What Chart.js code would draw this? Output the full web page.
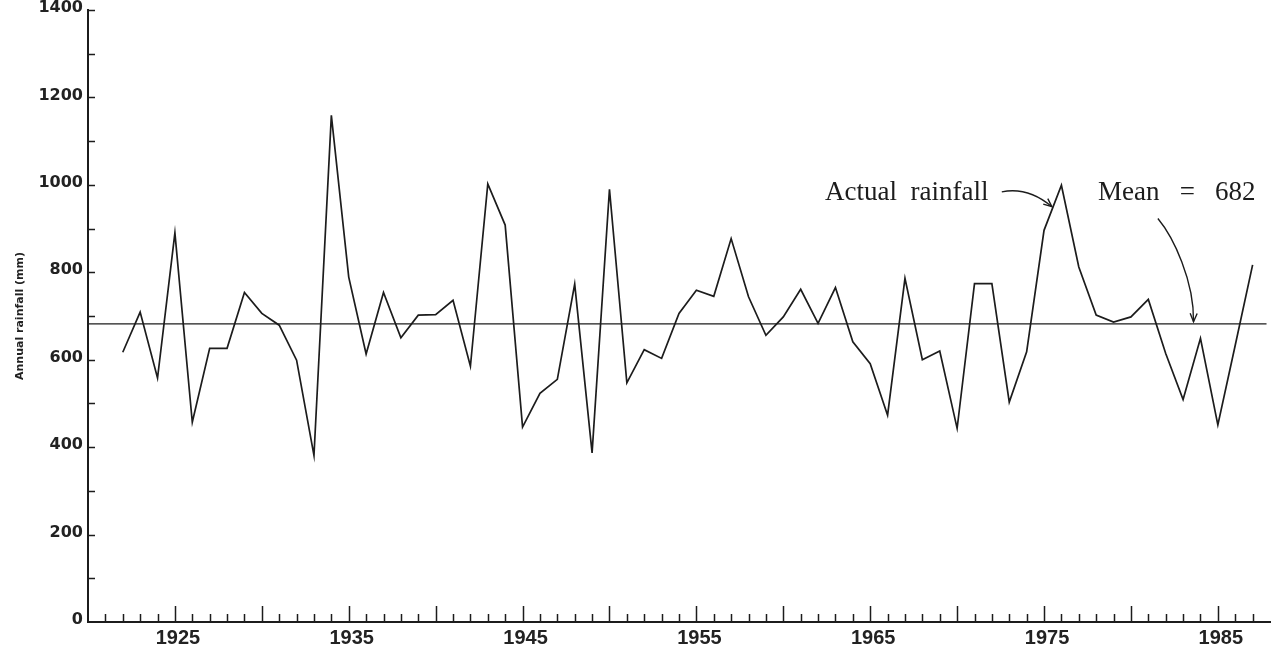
<!DOCTYPE html>
<html>
<head>
<meta charset="utf-8">
<script src="https://cdn.jsdelivr.net/npm/chart.js@4.4.1/dist/chart.umd.min.js"></script>
<style>
  html, body { margin: 0; padding: 0; background: #fff; }
  #rainfallChart { display: block; }
</style>
</head>
<body>
<canvas id="rainfallChart" width="1282" height="655"></canvas>
<script>
// annual rainfall (mm)
const years = [1922, 1923, 1924, 1925, 1926, 1927, 1928, 1929, 1930, 1931,
  1932, 1933, 1934, 1935, 1936, 1937, 1938, 1939, 1940, 1941,
  1942, 1943, 1944, 1945, 1946, 1947, 1948, 1949, 1950, 1951,
  1952, 1953, 1954, 1955, 1956, 1957, 1958, 1959, 1960, 1961,
  1962, 1963, 1964, 1965, 1966, 1967, 1968, 1969, 1970, 1971,
  1972, 1973, 1974, 1975, 1976, 1977, 1978, 1979, 1980, 1981,
  1982, 1983, 1984, 1985, 1986, 1987];
const rainfall = [617, 709, 558, 890, 457, 626, 626, 754, 706, 679,
  599, 381, 1159, 789, 613, 754, 650, 702, 703, 736,
  585, 1002, 908, 446, 523, 555, 773, 387, 990, 547,
  623, 603, 706, 759, 745, 877, 744, 656, 698, 761,
  683, 765, 641, 591, 473, 786, 600, 620, 443, 774,
  774, 503, 618, 896, 999, 812, 702, 686, 698, 738,
  614, 509, 649, 451, 633, 817];
const meanRainfall = 682;
const xLabelYears = [1925, 1935, 1945, 1955, 1965, 1975, 1985];
const yLabelValues = [0, 200, 400, 600, 800, 1000, 1200, 1400];

const ink = '#1c1c1c';

// text notes and arrows, placed in data units (year, mm)
const notes = [
  { text: 'Actual  rainfall', year: 1971.8, value: 965, align: 'right' },
  { text: 'Mean   =   682', year: 1978.1, value: 965, align: 'left' }
];
const arrows = [
  { from: [1972.57, 984], ctrl: [1974.08, 996], to: [1975.45, 950] },
  { from: [1981.55, 923], c1: [1982.45, 880], c2: [1983.64, 780], to: [1983.6, 687] }
];

const axisMarks = {
  id: 'axisMarks',
  afterDatasetsDraw(chart) {
    const { ctx, chartArea: a, scales: { x, y } } = chart;
    ctx.save();
    ctx.strokeStyle = ink;
    ctx.lineWidth = 1.5;
    ctx.beginPath();
    x.ticks.forEach(t => {
      if (t.value <= x.min || t.value >= x.max) return;
      const px = Math.round(x.getPixelForValue(t.value)) + 0.5;
      const len = t.value % 5 === 0 ? 16 : 8;
      ctx.moveTo(px, a.bottom);
      ctx.lineTo(px, a.bottom - len);
    });
    y.ticks.forEach(t => {
      if (t.value <= y.min) return;
      const py = Math.round(y.getPixelForValue(t.value)) + 0.5;
      ctx.moveTo(a.left, py);
      ctx.lineTo(a.left + 7, py);
    });
    ctx.stroke();

    // notes
    ctx.fillStyle = ink;
    ctx.font = '27px "Liberation Serif", "Times New Roman", serif';
    ctx.textBaseline = 'alphabetic';
    notes.forEach(n => {
      ctx.textAlign = n.align;
      ctx.fillText(n.text, x.getPixelForValue(n.year), y.getPixelForValue(n.value));
    });

    // curved arrows
    const P = p => [x.getPixelForValue(p[0]), y.getPixelForValue(p[1])];
    ctx.lineWidth = 1.4;
    arrows.forEach(ar => {
      const s = P(ar.from), e = P(ar.to);
      let last;
      ctx.beginPath();
      ctx.moveTo(s[0], s[1]);
      if (ar.ctrl) {
        const c = P(ar.ctrl);
        ctx.quadraticCurveTo(c[0], c[1], e[0], e[1]);
        last = c;
      } else {
        const c1 = P(ar.c1), c2 = P(ar.c2);
        ctx.bezierCurveTo(c1[0], c1[1], c2[0], c2[1], e[0], e[1]);
        last = c2;
      }
      ctx.stroke();
      const ang = Math.atan2(e[1] - last[1], e[0] - last[0]);
      const len = 9, spread = 0.4;
      ctx.beginPath();
      ctx.moveTo(e[0] - len * Math.cos(ang - spread), e[1] - len * Math.sin(ang - spread));
      ctx.lineTo(e[0], e[1]);
      ctx.lineTo(e[0] - len * Math.cos(ang + spread), e[1] - len * Math.sin(ang + spread));
      ctx.stroke();
    });
    ctx.restore();
  }
};

new Chart(document.getElementById('rainfallChart'), {
  type: 'line',
  data: {
    datasets: [
      {
        label: 'Actual rainfall',
        data: years.map((yr, i) => ({ x: yr, y: rainfall[i] })),
        borderColor: ink,
        borderWidth: 1.7,
        pointRadius: 0,
        tension: 0
      },
      {
        label: 'Mean',
        data: [{ x: 1920, y: meanRainfall }, { x: 1987.8, y: meanRainfall }],
        borderColor: ink,
        borderWidth: 1.3,
        pointRadius: 0
      }
    ]
  },
  options: {
    responsive: false,
    animation: false,
    devicePixelRatio: 1,
    layout: { padding: { top: 10, right: 12, left: 0, bottom: 0 } },
    plugins: { legend: { display: false }, tooltip: { enabled: false } },
    scales: {
      x: {
        type: 'linear',
        min: 1920,
        max: 1988,
        grid: { display: false, drawTicks: false },
        border: { display: true, color: ink, width: 2 },
        ticks: {
          stepSize: 1,
          autoSkip: false,
          maxRotation: 0,
          minRotation: 0,
          padding: 4,
          labelOffset: 3,
          color: '#222',
          font: { family: '"Liberation Sans", Arial, sans-serif', weight: 'bold', size: 20 },
          callback: v => xLabelYears.includes(v) ? String(v) : ''
        },
        afterFit: s => { s.height = 33; s.paddingLeft = 0; s.paddingRight = 0; }
      },
      y: {
        min: 0,
        max: 1400,
        grid: { display: false, drawTicks: false },
        border: { display: true, color: ink, width: 2 },
        ticks: {
          stepSize: 100,
          autoSkip: false,
          padding: 5,
          labelOffset: -2,
          color: '#222',
          font: { family: '"DejaVu Sans", sans-serif', weight: 'bold', size: 16 },
          callback: v => yLabelValues.includes(v) ? String(v) : ''
        },
        title: {
          display: true,
          text: 'Annual rainfall (mm)',
          color: '#222',
          padding: { top: 14, bottom: 0 },
          font: { family: '"DejaVu Sans", sans-serif', weight: 'bold', size: 11 }
        },
        afterFit: s => { s.width = 88; s.paddingTop = 0; s.paddingBottom = 0; }
      }
    }
  },
  plugins: [axisMarks]
});
</script>
</body>
</html>
